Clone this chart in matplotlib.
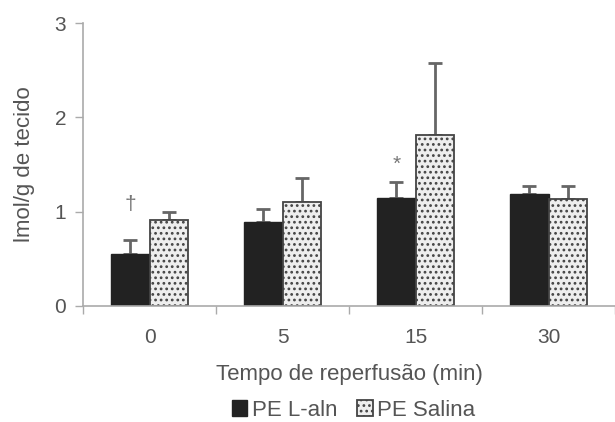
import numpy as np
import matplotlib
matplotlib.use('Agg')
import matplotlib.pyplot as plt

plt.rcParams['font.family'] = ['Liberation Sans', 'DejaVu Sans']
plt.rcParams['hatch.color'] = '#555555'
plt.rcParams['hatch.linewidth'] = 1.2

# dados
tempos = ['0', '5', '15', '30']
pe_laln = [0.55, 0.89, 1.15, 1.19]
pe_laln_err = [0.15, 0.14, 0.16, 0.08]
pe_salina = [0.91, 1.10, 1.81, 1.13]
pe_salina_err = [0.09, 0.26, 0.77, 0.14]
marcas = ['†', '', '*', '']
marcas_y = [1.08, 0, 1.50, 0]

txt = '#555555'
axc = '#aaaaaa'

fig = plt.figure(figsize=(6.15, 4.22), dpi=100)
ax = fig.add_axes([0.135, 0.275, 0.865, 0.67])

x = np.arange(len(tempos))
w = 0.29

ax.bar(x - w/2, pe_laln, w, color='#222222', edgecolor='#222222', linewidth=1,
       label='PE L-aln', zorder=2)
ax.bar(x + w/2, pe_salina, w, color='#eeeeee', edgecolor='#444444', linewidth=1.3,
       hatch='...', label='PE Salina', zorder=2)

ax.errorbar(x - w/2, pe_laln, yerr=[np.zeros(4), pe_laln_err], fmt='none',
            ecolor='#666666', elinewidth=2, capsize=5, capthick=2, zorder=1)
ax.errorbar(x + w/2, pe_salina, yerr=[np.zeros(4), pe_salina_err], fmt='none',
            ecolor='#666666', elinewidth=2, capsize=5, capthick=2, zorder=1)

for i, m in enumerate(marcas):
    if m:
        ax.text(x[i] - w/2, marcas_y[i], m, ha='center', va='center',
                fontsize=15, color='#777777')

ax.set_xlim(-0.5, len(tempos) - 0.5)
ax.set_ylim(0, 3)
ax.set_yticks([0, 1, 2, 3])
ax.set_xticks(x)
ax.set_xticklabels(tempos)
ax.set_xticks(np.arange(-0.5, len(tempos), 1), minor=True)
ax.tick_params(axis='x', which='major', length=0, pad=16, labelsize=15, labelcolor=txt)
ax.tick_params(axis='x', which='minor', length=6, color=axc, width=1)
ax.tick_params(axis='y', length=6, color=axc, width=1, labelsize=15, labelcolor=txt, pad=6)

for s in ['top', 'right']:
    ax.spines[s].set_visible(False)
for s in ['left', 'bottom']:
    ax.spines[s].set_color(axc)
    ax.spines[s].set_linewidth(1.2)

ax.set_xlabel('Tempo de reperfusão (min)', fontsize=16, color=txt, labelpad=12)
ax.set_ylabel('lmol/g de tecido', fontsize=16, color=txt, labelpad=14)

leg = fig.legend(loc='center', bbox_to_anchor=(0.575, 0.028), ncol=2, frameon=False,
                 fontsize=16, handlelength=0.7, handleheight=0.7, handletextpad=0.2,
                 columnspacing=0.9)
for t in leg.get_texts():
    t.set_color(txt)

fig.savefig('out.png', dpi=100)
